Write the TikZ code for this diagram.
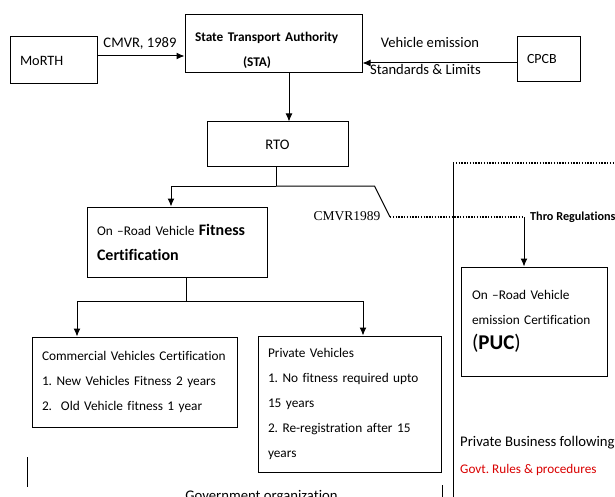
\documentclass[tikz,border=0pt]{standalone}
\usepackage{fontspec}
\setmainfont{Carlito}[Ligatures=NoCommon]
\newfontfamily\serifcmvr{Liberation Serif}
\usetikzlibrary{arrows.meta}
\frenchspacing

\begin{document}
\begin{tikzpicture}[x=1pt,y=-1pt,
    box/.style={draw, line width=1pt, align=left, inner xsep=10pt, inner ysep=0pt,
      font=\fontsize{13.3}{25}\selectfont},
    lbl/.style={font=\fontsize{14.6}{16}\selectfont, inner sep=0pt},
    arr/.style={line width=1pt, -{Latex[length=8pt,width=7pt]}},
    link/.style={line width=1pt},
    dots/.style={line width=1.6pt, dash pattern=on 1.4pt off 1.4pt}]
    \clip (0,0) rectangle (615,497);

    % top row
    \node[box, font=\fontsize{14.3}{25}\selectfont, text width=67pt, minimum height=47pt] (morth) at (53.5,60.5) {MoRTH};
    \node[box, text width=157pt, minimum height=58pt] (sta) at (273.5,44)
        {\rule{0pt}{22pt}\bfseries State Transport Authority\\\hspace*{48pt}\bfseries (STA)};
    \node[box, font=\fontsize{14}{25}\selectfont, text width=43pt, minimum height=45pt] (cpcb) at (548.5,59.5) {CPCB};
    \node[box, font=\fontsize{14.6}{25}\selectfont, align=center, text width=121pt, minimum height=45pt] (rto) at (277.5,144.5) {RTO};

    \draw[arr] (morth.east |- 0,56) -- (sta.west |- 0,56);
    \node[lbl] (cmvrlbl) at (140,43) {CMVR, 1989};
    \draw[arr] (cpcb.west |- 0,63) -- (sta.east |- 0,63);
    \node[lbl] (emis) at (430,42) {Vehicle emission};
    \node[lbl] (stds) at (425.5,69) {Standards \& Limits};
    \draw[arr] (sta.south -| 289,0) -- (rto.north -| 289,0);

    % government side
    \node[box, text width=160pt, minimum height=70pt] (fit) at (177,242)
        {On –Road Vehicle {\bfseries\fontsize{16}{25}\selectfont Fitness}\\
         {\bfseries\fontsize{16}{25}\selectfont Certification}};
    \node[box, text width=185pt, minimum height=90pt] (comm) at (134.5,382)
        {Commercial Vehicles Certification\\
         1. New Vehicles Fitness 2 years\\
         2.\ \ Old Vehicle fitness 1 year};
    \node[box, text width=163pt, minimum height=136pt] (priv) at (349.5,404)
        {Private Vehicles\\
         1. No fitness required upto\\
         15 years\\
         2. Re-registration after 15\\
         years};

    \coordinate (split) at (276,186);
    \coordinate (kink) at (374.5,186);
    \coordinate (bend) at (390,217);
    \coordinate (drop) at (524,217);
    \draw[link] (rto.south -| split) -- (split);
    \draw[arr] (split) -| (fit.north -| 171,0);
    \draw[link] (split) -- (kink) -- (bend);
    \draw[dots] (bend) -- (drop);

    \coordinate (fork) at (186,301);
    \draw[link] (fit.south -| fork) -- (fork);
    \draw[arr] (fork) -| (comm.north -| 77,0);
    \draw[arr] (fork) -| (priv.north -| 363,0);

    \node[lbl, font=\serifcmvr\fontsize{13.5}{16}\selectfont] (cmvr) at (347,216) {CMVR1989};
    \node[lbl, anchor=west, font=\bfseries\fontsize{12.2}{14}\selectfont] (thro) at (530,217) {Thro Regulations};

    % private side
    \node[box, inner xsep=11pt, text width=124pt, minimum height=109pt] (puc) at (534,321.5)
        {On –Road Vehicle\\
         emission Certification\\
         {\fontsize{21}{25}\selectfont(\textbf{PUC})}};
    \draw[arr] (drop) -- (puc.north -| drop);

    \coordinate (divtop) at (453,163);
    \draw[dots] (divtop) -- (615,163);
    \draw[link] (divtop) -- (453,497);

    \node[lbl, anchor=west, font=\fontsize{14.7}{16}\selectfont] (biz) at (460,443) {Private Business following};
    \node[lbl, anchor=west, text=red!85!black, font=\fontsize{13.2}{16}\selectfont] (rules) at (460,470) {Govt. Rules \& procedures};

    % bottom edge
    \draw[link] (27,457) -- (27,487);
    \draw[link] (442,485) -- (442,497);
    \node[lbl, anchor=base, font=\fontsize{14.7}{16}\selectfont] (gov) at (261.5,500) {Government organization};
\end{tikzpicture}
\end{document}
